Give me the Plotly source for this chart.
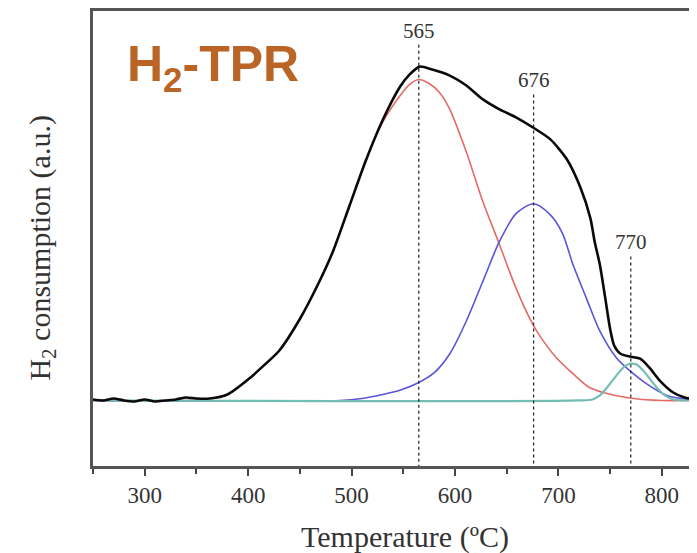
import plotly.graph_objects as go

# ---- data (temperature in °C, H2 signal in a.u.) ----
temp_exp = [250, 260, 270, 280, 290, 300, 310, 320, 330, 340, 350, 363, 380,
            401, 415, 430, 450, 469, 482, 498, 514, 530, 547, 556, 566, 578, 595,
            611, 627, 643, 659, 675, 692, 708, 721, 731, 735, 740, 745, 750, 754,
            760, 770, 779, 788, 798, 811, 822, 834]
h2_exp = [1, 0, 2, 0, -1, 1, -1, 0, 1, 3, 2, 2, 6,
          22, 35, 50, 82, 120, 150, 196, 242, 282, 316, 328, 336, 333, 327,
          317, 303, 293, 285, 275, 263, 243, 215, 183, 160, 137, 105, 72, 55,
          47, 44, 42, 33, 20, 8, 3, 1]

temp_p1 = [250, 340, 363, 380, 401, 415, 430, 450, 469, 482, 498, 514, 530, 547,
           556, 565, 575, 585, 595, 611, 627, 643, 659, 675, 682, 698, 714, 730,
           747, 773, 800, 834]
h2_p1 = [0, 0, 2, 6, 22, 35, 50, 82, 120, 150, 196, 242, 280, 307,
         318, 323, 319, 310, 293, 250, 200, 157, 113, 77, 65, 43, 27, 13,
         7, 2, 0, 0]

temp_p2 = [250, 489, 510, 530, 546, 563, 580, 595, 611, 627, 643, 659, 676, 692,
           704, 714, 727, 740, 756, 769, 785, 805, 827, 834]
h2_p2 = [0, 0, 2, 6, 10, 17, 28, 47, 80, 120, 160, 188, 198, 187,
         168, 137, 103, 70, 43, 30, 17, 5, 1, 1]

temp_p3 = [250, 720, 733, 740, 747, 753, 760, 765, 770, 776, 782, 789, 795, 803,
           811, 820, 834]
h2_p3 = [0, 0, 1, 5, 13, 21, 30, 35, 37, 36, 30, 21, 13, 5, 1, 0, 0]

peak_temps = [565, 676, 770]
peak_labels = ["565", "676", "770"]
label_levels = [358, 308, 145]      # signal level where each marker line starts

x_ticks = [300, 400, 500, 600, 700, 800]
x_range = [250, 834]
y_range = [-66, 392]

fig = go.Figure()

for tx, ty, col, w in [(temp_p1, h2_p1, "#E36B66", 1.6),
                       (temp_p2, h2_p2, "#5A55D8", 1.6),
                       (temp_p3, h2_p3, "#74BDB5", 2.2)]:
    fig.add_trace(go.Scatter(x=tx, y=ty, mode="lines",
                             line=dict(color=col, width=w, shape="spline", smoothing=0.8),
                             hoverinfo="skip", showlegend=False))

fig.add_trace(go.Scatter(x=temp_exp, y=h2_exp, mode="lines",
                         line=dict(color="#0A0A0A", width=2.6, shape="spline", smoothing=0.7),
                         hoverinfo="skip", showlegend=False))

for p, lab, lv in zip(peak_temps, peak_labels, label_levels):
    fig.add_trace(go.Scatter(x=[p, p], y=[lv, y_range[0]], mode="lines",
                             line=dict(color="#222222", width=1.2, dash="dot"),
                             hoverinfo="skip", showlegend=False))
    fig.add_annotation(x=p, y=lv, xref="x", yref="y", text=lab, showarrow=False,
                       yanchor="bottom", yshift=0,
                       font=dict(family="Liberation Serif", size=21, color="#333333"))

fig.add_annotation(x=0.053, y=0.875, xref="paper", yref="paper",
                   text="<b>H<sub>2</sub>-TPR</b>", showarrow=False,
                   xanchor="left", yanchor="middle",
                   font=dict(family="Liberation Sans", size=50, color="#BA6426"))

# axis titles (placed as annotations to match the reference's offsets)
fig.add_annotation(x=0.516, y=-0.155, xref="paper", yref="paper",
                   text="Temperature (ºC)", showarrow=False,
                   xanchor="center", yanchor="middle",
                   font=dict(family="Liberation Serif", size=30, color="#333333"))
fig.add_annotation(x=-0.086, y=0.478, xref="paper", yref="paper",
                   text="H<sub>2</sub> consumption (a.u.)", showarrow=False,
                   textangle=-90, xanchor="center", yanchor="middle",
                   font=dict(family="Liberation Serif", size=30, color="#333333"))

fig.update_layout(
    width=689, height=545,
    margin=dict(l=85, r=0, t=1, b=87),
    paper_bgcolor="white", plot_bgcolor="white",
    font=dict(family="Liberation Serif", color="#333333"),
    xaxis=dict(range=x_range, tickvals=x_ticks, ticks="outside", ticklen=7,
               tickwidth=1.5, tickcolor="#444444",
               showline=True, linecolor="#555555", linewidth=2.5, mirror=True,
               showgrid=False, zeroline=False,
               tickfont=dict(family="Liberation Serif", size=23, color="#333333"),
               minor=dict(dtick=50, tick0=250, ticks="outside", ticklen=5,
                          tickwidth=1.5, tickcolor="#444444")),
    yaxis=dict(range=y_range, showticklabels=False, ticks="",
               showline=True, linecolor="#555555", linewidth=2.5, mirror=False,
               showgrid=False, zeroline=False),
)

fig.write_html("out.html")
